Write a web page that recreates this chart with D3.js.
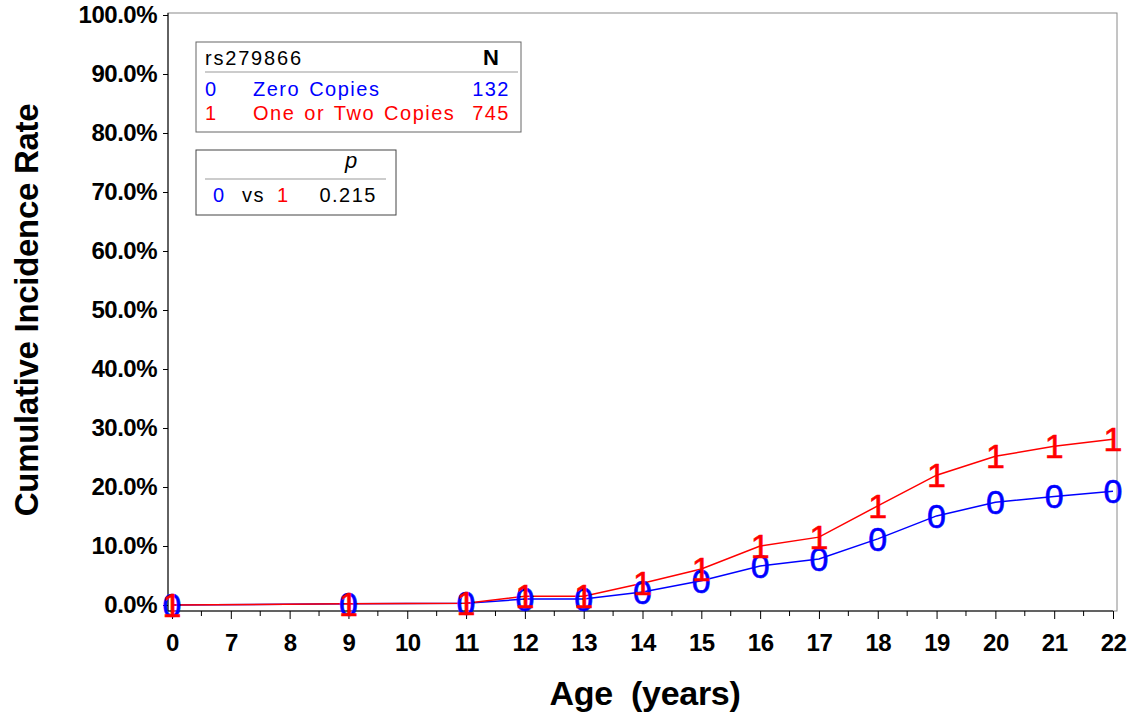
<!DOCTYPE html>
<html>
<head>
<meta charset="utf-8">
<script src="https://cdn.jsdelivr.net/npm/d3@7"></script>
<style>
	body { margin: 0; background: #fff; }
	svg { display: block; font-family: 'Liberation Sans', Arial, sans-serif; }
	.tk text { font-size: 24px; font-weight: bold; letter-spacing: -0.5px; fill: #000; }
	.lg text { font-size: 20px; letter-spacing: 1.5px; }
</style>
</head>
<body>
<div id="app"></div>
<script>
// ages shown on the axis (equally spaced categories)
const ages = ['0', '7', '8', '9', '10', '11', '12', '13', '14', '15', '16', '17', '18', '19', '20', '21', '22'];

// ages with estimates, and the cumulative incidence for each group
const pointAges = ['0', '9', '11', '12', '13', '14', '15', '16', '17', '18', '19', '20', '21', '22'];
const zeroCopies = [0, 0.002, 0.003, 0.010, 0.010, 0.022, 0.041, 0.066, 0.078, 0.112, 0.151, 0.174, 0.184, 0.193];
const oneOrTwo = [0, 0.002, 0.003, 0.015, 0.015, 0.037, 0.061, 0.100, 0.115, 0.168, 0.220, 0.252, 0.269, 0.281];

const yTicks = [0, 0.1, 0.2, 0.3, 0.4, 0.5, 0.6, 0.7, 0.8, 0.9, 1.0];

const groups = [
	{ sym: '0', label: 'Zero Copies', n: 132, color: '#0000ff', values: zeroCopies },
	{ sym: '1', label: 'One or Two Copies', n: 745, color: '#ff0000', values: oneOrTwo }
];
const pValue = '0.215';

const width = 1142, height = 719;
const plotLeft = 168, plotRight = 1117, plotTop = 13, axisY = 611;

const svg = d3.select('#app').append('svg')
	.attr('width', width)
	.attr('height', height);

const x = d3.scalePoint()
	.domain(ages)
	.range([172, 1113]);

const y = d3.scaleLinear()
	.domain([0, 1])
	.range([605, 15]);

// frame
svg.append('rect')
	.attr('x', plotLeft).attr('y', plotTop)
	.attr('width', plotRight - plotLeft).attr('height', axisY - plotTop)
	.attr('fill', 'none')
	.attr('stroke', '#8a8a8a')
	.attr('stroke-width', 1);

// y axis
svg.append('g')
	.attr('class', 'tk')
	.attr('transform', `translate(${plotLeft},0)`)
	.call(d3.axisLeft(y).tickValues(yTicks).tickFormat(d3.format('.1%')).tickSize(5).tickPadding(6))
	.call(g => g.select('.domain').remove())
	.call(g => g.selectAll('line').attr('stroke', '#000'));

svg.append('line')
	.attr('x1', plotLeft).attr('x2', plotLeft)
	.attr('y1', plotTop).attr('y2', axisY)
	.attr('stroke', '#000');

// x axis
svg.append('g')
	.attr('class', 'tk')
	.attr('transform', `translate(0,${axisY})`)
	.call(d3.axisBottom(x).tickSize(8).tickPadding(15))
	.call(g => g.select('.domain').remove())
	.call(g => g.selectAll('line').attr('stroke', '#000'));

svg.append('line')
	.attr('x1', plotLeft).attr('x2', x('22'))
	.attr('y1', axisY).attr('y2', axisY)
	.attr('stroke', '#000');

// minor ticks halfway between ages
const mids = d3.pairs(ages).map(([a, b]) => (x(a) + x(b)) / 2);
svg.append('g')
	.selectAll('line')
	.data(mids)
	.enter().append('line')
		.attr('x1', d => d).attr('x2', d => d)
		.attr('y1', axisY).attr('y2', axisY + 5)
		.attr('stroke', '#000');

// axis titles
svg.append('text')
	.attr('transform', 'translate(38,310) rotate(-90)')
	.attr('text-anchor', 'middle')
	.attr('font-size', 33)
	.attr('font-weight', 'bold')
	.attr('letter-spacing', -0.3)
	.text('Cumulative Incidence Rate');

svg.append('text')
	.attr('x', 645).attr('y', 705)
	.attr('text-anchor', 'middle')
	.attr('font-size', 34)
	.attr('font-weight', 'bold')
	.attr('letter-spacing', -0.3)
	.style('white-space', 'pre')
	.text('Age  (years)');

// series lines and symbol markers
const line = d3.line()
	.x((d, i) => x(pointAges[i]))
	.y(d => y(d));

groups.forEach(gr => {
	svg.append('path')
		.datum(gr.values)
		.attr('d', line)
		.attr('fill', 'none')
		.attr('stroke', gr.color)
		.attr('stroke-width', 1.5);
});

groups.forEach(gr => {
	svg.append('g')
		.selectAll('text')
		.data(gr.values)
		.enter().append('text')
			.attr('x', (d, i) => x(pointAges[i]))
			.attr('y', d => y(d) + 12)
			.attr('text-anchor', 'middle')
			.attr('font-size', 34)
			.attr('fill', gr.color)
			.attr('stroke', gr.color)
			.attr('stroke-width', 0.6)
			.text(gr.sym);
});

// legend box
const lg = svg.append('g').attr('class', 'lg');
lg.append('rect')
	.attr('x', 196).attr('y', 42).attr('width', 325).attr('height', 90)
	.attr('fill', '#fff').attr('stroke', '#666');
lg.append('text')
	.attr('x', 205).attr('y', 65)
	.style('letter-spacing', '1.8px')
	.text('rs279866');
lg.append('text')
	.attr('x', 499).attr('y', 65)
	.attr('text-anchor', 'end')
	.style('font-size', '22px')
	.style('letter-spacing', '0px')
	.attr('font-weight', 'bold')
	.text('N');
lg.append('line')
	.attr('x1', 205).attr('x2', 518)
	.attr('y1', 72).attr('y2', 72)
	.attr('stroke', '#999');
groups.forEach((gr, i) => {
	const by = 96 + i * 24;
	lg.append('text').attr('x', 205).attr('y', by).attr('fill', gr.color).text(gr.sym);
	lg.append('text').attr('x', 253).attr('y', by).attr('fill', gr.color)
		.attr('word-spacing', 2).text(gr.label);
	lg.append('text').attr('x', 510).attr('y', by).attr('fill', gr.color)
		.attr('text-anchor', 'end').text(gr.n);
});

// p-value box
const pb = svg.append('g').attr('class', 'lg');
pb.append('rect')
	.attr('x', 196).attr('y', 150).attr('width', 200).attr('height', 65)
	.attr('fill', '#fff').attr('stroke', '#444');
pb.append('text')
	.attr('x', 345).attr('y', 168)
	.style('font-size', '22px')
	.attr('font-style', 'italic')
	.text('p');
pb.append('line')
	.attr('x1', 205).attr('x2', 386)
	.attr('y1', 179).attr('y2', 179)
	.attr('stroke', '#999');
pb.append('text').attr('x', 213).attr('y', 202).attr('fill', groups[0].color).text(groups[0].sym);
pb.append('text').attr('x', 242).attr('y', 202).attr('fill', '#000').text('vs');
pb.append('text').attr('x', 277).attr('y', 202).attr('fill', groups[1].color).text(groups[1].sym);
pb.append('text').attr('x', 377).attr('y', 202).attr('fill', '#000')
	.attr('text-anchor', 'end').text(pValue);
</script>
</body>
</html>
